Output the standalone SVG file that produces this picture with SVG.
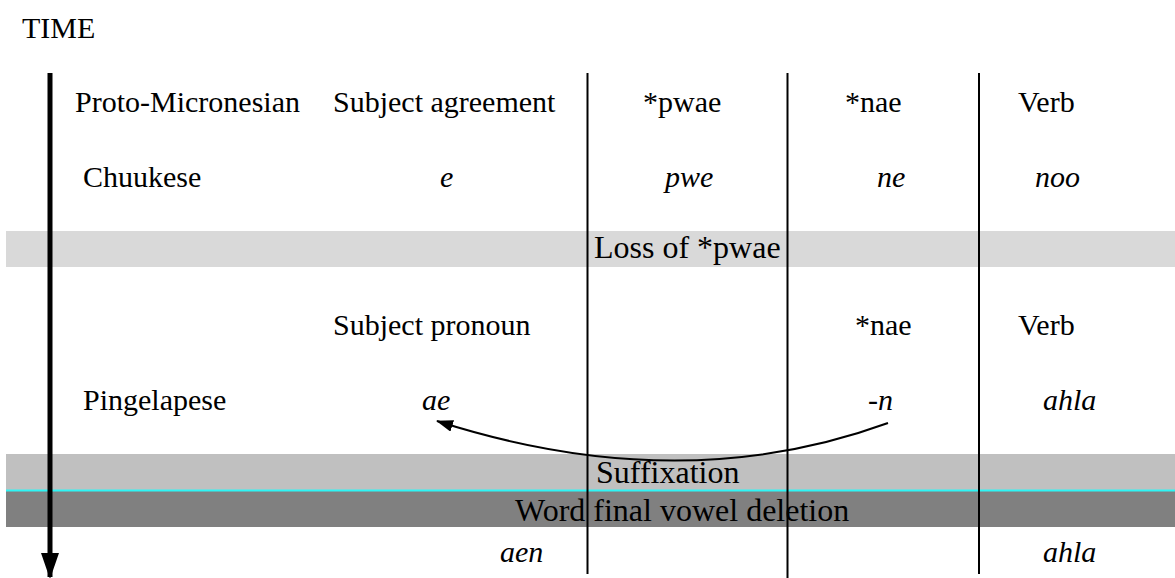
<svg xmlns="http://www.w3.org/2000/svg" width="1175" height="578" viewBox="0 0 1175 578">
  <style>
    text { font-family: "Liberation Serif", "Times New Roman", serif; font-size: 30px; fill: #000; }
    .it { font-style: italic; }
    .band-label { font-size: 32px; }
    .rule { stroke: #000; stroke-width: 2; }
  </style>
  <defs>
    <marker id="head-time" markerWidth="26" markerHeight="18" refX="24" refY="9" orient="auto" markerUnits="userSpaceOnUse">
      <path d="M0,0 L26,9 L0,18 Z" fill="#000"/>
    </marker>
    <marker id="head-curve" markerWidth="17" markerHeight="12" refX="16" refY="6" orient="auto" markerUnits="userSpaceOnUse">
      <path d="M0,0 L17,6 L0,12 Z" fill="#000"/>
    </marker>
  </defs>

  <rect width="1175" height="578" fill="#fff"/>

  <!-- process bands -->
  <g id="band-loss">
    <rect x="6" y="231" width="1169" height="36" fill="#d9d9d9"/>
    <text class="band-label" x="594" y="258">Loss of *pwae</text>
  </g>
  <g id="band-suffixation">
    <rect x="6" y="454" width="1169" height="36" fill="#c0c0c0"/>
    <text class="band-label" x="596" y="483">Suffixation</text>
  </g>
  <g id="band-deletion">
    <rect x="6" y="491" width="1169" height="36" fill="#808080"/>
    <line x1="6" y1="490.5" x2="1175" y2="490.5" stroke="#2ef5f5" stroke-width="2"/>
    <text class="band-label" x="515" y="521">Word final vowel deletion</text>
  </g>

  <!-- column rules -->
  <g id="columns">
    <line class="rule" x1="587.5" y1="73" x2="587.5" y2="574"/>
    <line class="rule" x1="787.5" y1="73" x2="787.5" y2="578"/>
    <line class="rule" x1="979" y1="73" x2="979" y2="574"/>
  </g>

  <text id="time-label" x="22" y="38">TIME</text>

  <g id="row-proto">
    <text x="75" y="112">Proto-Micronesian</text>
    <text x="333" y="112">Subject agreement</text>
    <text x="643" y="112">*pwae</text>
    <text x="845" y="112">*nae</text>
    <text x="1018" y="112">Verb</text>
  </g>
  <g id="row-chuukese">
    <text x="83" y="187">Chuukese</text>
    <text class="it" x="440" y="187">e</text>
    <text class="it" x="665" y="187">pwe</text>
    <text class="it" x="877" y="187">ne</text>
    <text class="it" x="1035" y="187">noo</text>
  </g>
  <g id="row-pronoun">
    <text x="333" y="335">Subject pronoun</text>
    <text x="855" y="335">*nae</text>
    <text x="1018" y="335">Verb</text>
  </g>
  <g id="row-pingelapese">
    <text x="83" y="410">Pingelapese</text>
    <text class="it" x="422" y="410">ae</text>
    <text class="it" x="868" y="410">-n</text>
    <text class="it" x="1043" y="410">ahla</text>
  </g>
  <g id="row-result">
    <text class="it" x="500" y="562">aen</text>
    <text class="it" x="1043" y="562">ahla</text>
  </g>

  <!-- connectors -->
  <g id="connectors">
    <line x1="50" y1="73" x2="50" y2="577" stroke="#000" stroke-width="5" marker-end="url(#head-time)"/>
    <path d="M888,423 Q680,499 437,421" fill="none" stroke="#000" stroke-width="2" marker-end="url(#head-curve)"/>
  </g>
</svg>
